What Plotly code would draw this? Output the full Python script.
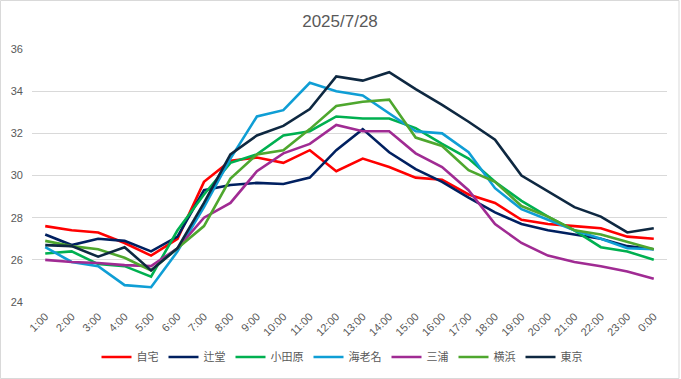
import plotly.graph_objects as go

hours = ["1:00", "2:00", "3:00", "4:00", "5:00", "6:00", "7:00", "8:00", "9:00", "10:00",
         "11:00", "12:00", "13:00", "14:00", "15:00", "16:00", "17:00", "18:00", "19:00",
         "20:00", "21:00", "22:00", "23:00", "0:00"]

jitaku = [27.6, 27.4, 27.3, 26.8, 26.2, 27.0, 29.7, 30.7, 30.85, 30.6, 31.2, 30.2,
          30.8, 30.4, 29.9, 29.8, 29.1, 28.7, 27.9, 27.7, 27.6, 27.5, 27.1, 27.0]
tsujido = [27.2, 26.7, 27.0, 26.9, 26.4, 27.1, 29.3, 29.55, 29.65, 29.6, 29.9, 31.2,
           32.2, 31.1, 30.3, 29.7, 28.95, 28.25, 27.7, 27.4, 27.2, 27.0, 26.65, 26.5]
odawara = [26.3, 26.4, 25.8, 25.7, 25.2, 27.4, 29.1, 30.6, 31.0, 31.9, 32.1, 32.8,
           32.7, 32.7, 32.25, 31.5, 30.8, 29.7, 28.8, 28.05, 27.4, 26.6, 26.4, 26.0]
ebina = [26.6, 25.9, 25.7, 24.8, 24.7, 26.4, 28.5, 30.8, 32.8, 33.1, 34.4, 34.0,
         33.8, 32.95, 32.1, 32.0, 31.1, 29.4, 28.4, 27.9, 27.4, 27.0, 26.55, 26.5]
miura = [26.0, 25.9, 25.85, 25.75, 25.7, 26.55, 28.0, 28.7, 30.2, 31.05, 31.5, 32.4,
         32.1, 32.1, 31.05, 30.4, 29.3, 27.7, 26.8, 26.2, 25.9, 25.7, 25.45, 25.1]
yokohama = [26.9, 26.65, 26.5, 26.1, 25.5, 26.55, 27.6, 29.85, 31.0, 31.2, 32.2, 33.3,
            33.5, 33.6, 31.8, 31.4, 30.25, 29.7, 28.55, 28.05, 27.4, 27.2, 26.85, 26.5]
tokyo = [26.7, 26.65, 26.15, 26.6, 25.5, 26.55, 28.7, 31.0, 31.9, 32.35, 33.15, 34.7,
         34.5, 34.9, 34.1, 33.35, 32.55, 31.7, 30.0, 29.25, 28.5, 28.05, 27.3, 27.5]

series_names = ["自宅", "辻堂", "小田原", "海老名", "三浦", "横浜", "東京"]
series_values = [jitaku, tsujido, odawara, ebina, miura, yokohama, tokyo]
series_colors = ["#FF0000", "#002060", "#00B050", "#0F9ED5", "#A02B93", "#4EA72E", "#0E2841"]

fig = go.Figure()
for name, vals, col in zip(series_names, series_values, series_colors):
    fig.add_trace(go.Scatter(x=hours, y=vals, mode="lines", name=name,
                             line=dict(color=col, width=2.6)))

W, H = 681, 379
ml, mr, mt, mb = 32, 14, 49, 77
pw, ph = W - ml - mr, H - mt - mb

fig.update_layout(
    width=W, height=H,
    margin=dict(l=ml, r=mr, t=mt, b=mb, autoexpand=False),
    paper_bgcolor="white", plot_bgcolor="white",
    font=dict(family="Liberation Sans, Arial, Noto Sans CJK JP", color="#595959", size=11),
    title=dict(text="2025/7/28", x=(340 - ml) / pw, xref="paper", xanchor="center",
               y=1 - 21 / H, yanchor="middle",
               font=dict(size=17, color="#595959")),
    xaxis=dict(type="category", range=[-0.5, 23.5], tickangle=-45, showgrid=False,
               showline=False, ticks="", automargin=False, ticklabelstandoff=5,
               tickfont=dict(size=11, color="#595959")),
    yaxis=dict(range=[24, 36], dtick=2, showgrid=True, gridcolor="#D9D9D9", gridwidth=1,
               zeroline=False, showline=False, ticks="", automargin=False,
               ticklabelstandoff=8,
               tickfont=dict(size=11, color="#595959")),
    showlegend=True,
    legend=dict(orientation="h", x=(342 - ml) / pw, xanchor="center", y=-55 / ph,
                yanchor="middle",
                font=dict(family="Noto Sans CJK JP, Liberation Sans", size=11, color="#595959"),
                itemwidth=30, tracegroupgap=0, bgcolor="rgba(0,0,0,0)"),
    shapes=[dict(type="rect", xref="paper", yref="paper",
                 x0=(0.5 - ml) / pw, x1=1 + (mr - 2) / pw,
                 y0=-(mb - 0.5) / ph, y1=1 + (mt - 0.5) / ph,
                 line=dict(color="#D9D9D9", width=1), fillcolor="rgba(0,0,0,0)", layer="below")],
)

fig.write_html("out.html", config={"displayModeBar": False},
               post_script="document.body.style.margin='0';document.body.style.overflow='hidden';")
